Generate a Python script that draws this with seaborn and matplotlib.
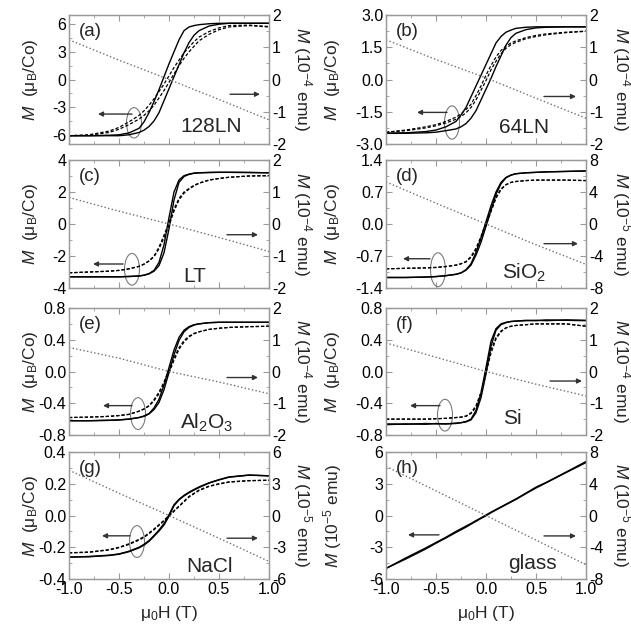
import matplotlib
matplotlib.use("Agg")
import matplotlib.pyplot as plt
import numpy as np
import pandas as pd
import seaborn as sns
from matplotlib.patches import Ellipse
from matplotlib.ticker import MultipleLocator, FixedLocator, FixedFormatter

# ---------------- data ----------------
H = [-1.0, -0.8, -0.6, -0.5, -0.4, -0.3, -0.25, -0.2, -0.15, -0.1, -0.05, 0.0,
     0.05, 0.1, 0.15, 0.2, 0.25, 0.3, 0.4, 0.5, 0.6, 0.8, 1.0]
DOT_H = [-1.0, -0.5, 0.0, 0.5, 1.0]

A_SOLID_UP = [-6.1, -6.1, -6.05, -6.0, -5.8, -5.3, -4.6, -3.6, -2.4, -1.1, 0.3, 1.7, 3.0, 4.3, 5.3, 5.7, 5.85, 5.95, 6.05, 6.1, 6.1, 6.1, 6.1]
A_SOLID_LO = [-6.1, -6.1, -6.1, -6.1, -6.0, -5.75, -5.5, -5.1, -4.5, -3.6, -2.3, -1.0, 0.3, 1.6, 2.9, 4.0, 4.8, 5.3, 5.8, 6.0, 6.1, 6.1, 6.1]
A_DASH_UP = [-6.1, -6.0, -5.6, -5.2, -4.6, -3.9, -3.4, -2.8, -2.1, -1.3, -0.5, 0.4, 1.3, 2.1, 2.9, 3.5, 4.1, 4.6, 5.2, 5.6, 5.85, 5.9, 5.75]
A_DASH_LO = [-6.1, -6.05, -5.75, -5.4, -4.9, -4.3, -3.9, -3.4, -2.8, -2.0, -1.2, -0.3, 0.6, 1.5, 2.3, 3.0, 3.6, 4.2, 4.9, 5.4, 5.7, 5.85, 5.7]
A_DOT = [1.23, 0.6, 0.0, -0.62, -1.25]

B_SOLID_UP = [-2.5, -2.48, -2.42, -2.35, -2.2, -1.95, -1.65, -1.3, -0.8, -0.3, 0.2, 0.7, 1.2, 1.7, 2.0, 2.2, 2.3, 2.38, 2.43, 2.45, 2.45, 2.45, 2.45]
B_SOLID_LO = [-2.5, -2.5, -2.48, -2.45, -2.38, -2.3, -2.2, -2.05, -1.8, -1.45, -0.95, -0.45, 0.05, 0.6, 1.1, 1.6, 1.95, 2.15, 2.32, 2.4, 2.43, 2.45, 2.45]
B_DASH_UP = [-2.45, -2.35, -2.2, -2.1, -1.95, -1.75, -1.6, -1.4, -1.15, -0.75, -0.3, 0.2, 0.65, 1.05, 1.35, 1.55, 1.7, 1.8, 1.95, 2.05, 2.12, 2.2, 2.25]
B_DASH_LO = [-2.45, -2.38, -2.25, -2.15, -2.02, -1.85, -1.72, -1.55, -1.3, -0.95, -0.5, -0.05, 0.45, 0.85, 1.2, 1.45, 1.62, 1.73, 1.9, 2.0, 2.08, 2.18, 2.24]
B_DOT = [1.23, 0.62, 0.05, -0.58, -1.2]

C_SOLID_UP = [-3.3, -3.3, -3.3, -3.3, -3.28, -3.25, -3.2, -3.1, -2.9, -2.4, -1.3, 0.4, 2.0, 2.75, 3.02, 3.12, 3.18, 3.2, 3.22, 3.23, 3.23, 3.22, 3.2]
C_SOLID_LO = [-3.3, -3.3, -3.3, -3.3, -3.28, -3.25, -3.2, -3.12, -2.95, -2.6, -1.8, -0.3, 1.5, 2.6, 2.97, 3.1, 3.17, 3.2, 3.22, 3.23, 3.23, 3.22, 3.2]
C_DASH_UP = [-3.05, -3.0, -2.95, -2.9, -2.8, -2.65, -2.5, -2.3, -2.0, -1.45, -0.7, 0.1, 0.95, 1.6, 2.0, 2.22, 2.42, 2.56, 2.75, 2.85, 2.92, 3.0, 3.02]
C_DASH_LO = [-3.05, -3.0, -2.95, -2.9, -2.8, -2.65, -2.52, -2.32, -2.05, -1.55, -0.85, -0.1, 0.8, 1.5, 1.92, 2.18, 2.38, 2.54, 2.74, 2.84, 2.92, 3.0, 3.02]
C_DOT = [0.83, 0.4, 0.0, -0.42, -0.86]

D_SOLID_UP = [-1.17, -1.17, -1.16, -1.15, -1.13, -1.1, -1.07, -1.0, -0.87, -0.62, -0.3, 0.05, 0.4, 0.7, 0.91, 1.02, 1.07, 1.1, 1.12, 1.13, 1.14, 1.15, 1.16]
D_SOLID_LO = [-1.17, -1.17, -1.16, -1.15, -1.13, -1.1, -1.07, -1.01, -0.9, -0.68, -0.4, -0.05, 0.3, 0.65, 0.88, 1.01, 1.07, 1.1, 1.12, 1.13, 1.14, 1.15, 1.16]
D_DASH_UP = [-0.98, -0.97, -0.96, -0.95, -0.93, -0.9, -0.87, -0.82, -0.71, -0.53, -0.27, 0.03, 0.33, 0.6, 0.77, 0.86, 0.91, 0.93, 0.95, 0.96, 0.96, 0.96, 0.95]
D_DASH_LO = [-0.98, -0.97, -0.96, -0.95, -0.93, -0.9, -0.87, -0.83, -0.73, -0.57, -0.33, -0.03, 0.27, 0.56, 0.75, 0.86, 0.91, 0.93, 0.95, 0.96, 0.96, 0.96, 0.95]
D_DOT = [5.26, 2.6, 0.0, -2.6, -5.05]

E_SOLID_UP = [-0.62, -0.62, -0.615, -0.61, -0.6, -0.58, -0.56, -0.53, -0.46, -0.35, -0.17, 0.05, 0.27, 0.43, 0.52, 0.565, 0.59, 0.6, 0.615, 0.62, 0.62, 0.62, 0.62]
E_SOLID_LO = [-0.62, -0.62, -0.615, -0.61, -0.6, -0.58, -0.565, -0.535, -0.48, -0.39, -0.23, -0.01, 0.21, 0.39, 0.5, 0.555, 0.585, 0.6, 0.615, 0.62, 0.62, 0.62, 0.62]
E_DASH_UP = [-0.58, -0.575, -0.565, -0.555, -0.54, -0.5, -0.47, -0.43, -0.355, -0.26, -0.13, 0.02, 0.17, 0.3, 0.39, 0.445, 0.48, 0.5, 0.53, 0.545, 0.555, 0.565, 0.57]
E_DASH_LO = [-0.58, -0.575, -0.565, -0.555, -0.54, -0.5, -0.475, -0.435, -0.37, -0.28, -0.16, -0.02, 0.14, 0.28, 0.37, 0.435, 0.475, 0.5, 0.53, 0.545, 0.555, 0.565, 0.57]
E_DOT = [0.76, 0.42, 0.0, -0.33, -0.7]

F_SOLID_UP = [-0.66, -0.665, -0.655, -0.66, -0.66, -0.65, -0.645, -0.63, -0.6, -0.49, -0.27, 0.05, 0.38, 0.54, 0.6, 0.62, 0.63, 0.635, 0.645, 0.64, 0.65, 0.645, 0.64]
F_SOLID_LO = [-0.67, -0.66, -0.665, -0.655, -0.66, -0.655, -0.645, -0.635, -0.61, -0.52, -0.33, -0.03, 0.32, 0.52, 0.59, 0.615, 0.63, 0.635, 0.64, 0.645, 0.64, 0.65, 0.645]
F_DASH_UP = [-0.6, -0.6, -0.6, -0.595, -0.59, -0.58, -0.575, -0.56, -0.52, -0.43, -0.26, 0.02, 0.27, 0.43, 0.51, 0.55, 0.57, 0.58, 0.59, 0.6, 0.6, 0.6, 0.57]
F_DASH_LO = [-0.6, -0.6, -0.6, -0.595, -0.59, -0.58, -0.575, -0.565, -0.53, -0.45, -0.3, -0.02, 0.23, 0.41, 0.5, 0.55, 0.57, 0.58, 0.59, 0.6, 0.6, 0.6, 0.57]
F_DOT = [0.9, 0.45, 0.0, -0.4, -0.77]

G_SOLID_UP = [-0.262, -0.258, -0.25, -0.242, -0.225, -0.2, -0.182, -0.158, -0.126, -0.092, -0.05, 0.005, 0.068, 0.102, 0.127, 0.147, 0.164, 0.18, 0.206, 0.226, 0.243, 0.255, 0.25]
G_SOLID_LO = [-0.262, -0.26, -0.252, -0.244, -0.228, -0.204, -0.186, -0.163, -0.131, -0.098, -0.06, -0.005, 0.062, 0.098, 0.123, 0.143, 0.16, 0.176, 0.204, 0.224, 0.241, 0.254, 0.25]
G_DASH_UP = [-0.235, -0.23, -0.215, -0.2, -0.178, -0.15, -0.133, -0.11, -0.085, -0.058, -0.03, 0.0, 0.03, 0.06, 0.09, 0.12, 0.14, 0.16, 0.185, 0.2, 0.212, 0.22, 0.222]
G_DASH_LO = [-0.235, -0.232, -0.217, -0.203, -0.182, -0.155, -0.138, -0.115, -0.09, -0.062, -0.034, -0.004, 0.026, 0.056, 0.086, 0.116, 0.137, 0.157, 0.183, 0.198, 0.21, 0.219, 0.222]
G_DOT = [4.28, 2.1, 0.0, -2.15, -4.34]

H_SOLID_UP = [-5.0, -4.0, -3.05, -2.55, -2.05, -1.5, -1.25, -1.0, -0.75, -0.48, -0.22, 0.05, 0.32, 0.57, 0.82, 1.07, 1.32, 1.57, 2.12, 2.68, 3.12, 4.1, 5.1]
H_SOLID_LO = [-5.0, -4.1, -3.15, -2.62, -2.12, -1.6, -1.35, -1.1, -0.82, -0.55, -0.28, -0.03, 0.26, 0.52, 0.77, 1.02, 1.27, 1.52, 2.07, 2.6, 3.08, 4.05, 5.0]
H_DOT = [6.2, 3.1, 0.0, -3.1, -6.2]

PANEL_LABELS = ["(a)", "(b)", "(c)", "(d)", "(e)", "(f)", "(g)", "(h)"]
SAMPLES = ["128LN", "64LN", "LT", "SiO$_2$", "Al$_2$O$_3$", "Si", "NaCl", "glass"]
LEFT_TICKS = [
    ["-6", "-3", "0", "3", "6"],
    ["-3.0", "-1.5", "0.0", "1.5", "3.0"],
    ["-4", "-2", "0", "2", "4"],
    ["-1.4", "-0.7", "0.0", "0.7", "1.4"],
    ["-0.8", "-0.4", "0.0", "0.4", "0.8"],
    ["-0.8", "-0.4", "0.0", "0.4", "0.8"],
    ["-0.4", "-0.2", "0.0", "0.2", "0.4"],
    ["-6", "-3", "0", "3", "6"],
]
RIGHT_TICKS = [
    ["-2", "-1", "0", "1", "2"], ["-2", "-1", "0", "1", "2"],
    ["-2", "-1", "0", "1", "2"], ["-8", "-4", "0", "4", "8"],
    ["-2", "-1", "0", "1", "2"], ["-2", "-1", "0", "1", "2"],
    ["-6", "-3", "0", "3", "6"], ["-8", "-4", "0", "4", "8"],
]
X_TICKS = ["-1.0", "-0.5", "0.0", "0.5", "1.0"]

panels = [
    (A_SOLID_UP, A_SOLID_LO, A_DASH_UP, A_DASH_LO, A_DOT),
    (B_SOLID_UP, B_SOLID_LO, B_DASH_UP, B_DASH_LO, B_DOT),
    (C_SOLID_UP, C_SOLID_LO, C_DASH_UP, C_DASH_LO, C_DOT),
    (D_SOLID_UP, D_SOLID_LO, D_DASH_UP, D_DASH_LO, D_DOT),
    (E_SOLID_UP, E_SOLID_LO, E_DASH_UP, E_DASH_LO, E_DOT),
    (F_SOLID_UP, F_SOLID_LO, F_DASH_UP, F_DASH_LO, F_DOT),
    (G_SOLID_UP, G_SOLID_LO, G_DASH_UP, G_DASH_LO, G_DOT),
    (H_SOLID_UP, H_SOLID_LO, None, None, H_DOT),
]

# ---------------- layout / style (not data) ----------------
geo = [
    dict(yl=7, yr=2, ell=(-0.35, -4.7, 0.15, 3.3), la=(-0.37, -0.71, -3.75), ra=(0.61, 0.91, -1.6), st=(0.42, -5.1)),
    dict(yl=3, yr=2, ell=(-0.34, -2.0, 0.15, 1.55), la=(-0.39, -0.69, -1.53), ra=(0.58, 0.90, -0.79), st=(0.38, -2.25)),
    dict(yl=4, yr=2, ell=(-0.37, -2.83, 0.15, 1.98), la=(-0.46, -0.76, -2.5), ra=(0.58, 0.89, -0.67), st=(0.26, -3.3)),
    dict(yl=1.4, yr=8, ell=(-0.48, -1.0, 0.15, 0.74), la=(-0.56, -0.83, -0.76), ra=(0.58, 0.92, -0.43), st=(0.38, -1.07)),
    dict(yl=0.8, yr=2, ell=(-0.31, -0.53, 0.15, 0.4), la=(-0.37, -0.66, -0.43), ra=(0.58, 0.89, -0.076), st=(0.38, -0.65)),
    dict(yl=0.8, yr=2, ell=(-0.41, -0.55, 0.15, 0.4), la=(-0.46, -0.76, -0.43), ra=(0.64, 0.96, -0.12), st=(0.26, -0.59)),
    dict(yl=0.4, yr=6, ell=(-0.32, -0.164, 0.15, 0.2), la=(-0.39, -0.67, -0.128), ra=(0.58, 0.89, -0.143), st=(0.40, -0.32)),
    dict(yl=6, yr=8, ell=None, la=(-0.47, -0.78, -1.83), ra=(0.58, 0.90, -1.93), st=(0.46, -4.5)),
]

sns.set_style("ticks")
plt.rcParams["font.family"] = ["Liberation Sans", "DejaVu Sans"]
plt.rcParams["mathtext.fontset"] = "custom"
plt.rcParams["mathtext.rm"] = "Liberation Sans"
plt.rcParams["mathtext.it"] = "Liberation Sans:italic"
plt.rcParams["mathtext.bf"] = "Liberation Sans:bold"
plt.rcParams["axes.unicode_minus"] = False

W, Hpx = 631, 630
fig = plt.figure(figsize=(W / 100, Hpx / 100), dpi=100)

col_x = [69, 386]
col_w = 200
rows = [(15, 144), (160, 288), (308, 435), (452, 579)]
SPINE = "#9a9a9a"


def line(ax, xs, ys, **kw):
    df = pd.DataFrame({"H": xs, "M": ys})
    sns.lineplot(data=df, x="H", y="M", ax=ax, sort=False, estimator=None, **kw)
    return ax.lines[-1]


for i, (su, sl, du, dl, dot) in enumerate(panels):
    r, c = divmod(i, 2)
    top, bot = rows[r]
    ax = fig.add_axes([col_x[c] / W, 1 - bot / Hpx, col_w / W, (bot - top) / Hpx])
    ax2 = ax.twinx()
    g = geo[i]

    line(ax2, DOT_H, dot, color="#707070", linewidth=1.0, linestyle=":")
    if du is not None:
        for ys in (du, dl):
            ln = line(ax, H, ys, color="black", linewidth=0.9)
            ln.set_linestyle((0, (2.6, 1.6)))
    for ys in (su, sl):
        line(ax, H, ys, color="black", linewidth=1.0)

    ax.set_xlim(-1, 1)
    ax.set_ylim(-g["yl"], g["yl"])
    ax2.set_ylim(-g["yr"], g["yr"])

    lt = [float(t) for t in LEFT_TICKS[i]]
    ax.yaxis.set_major_locator(FixedLocator(lt))
    ax.yaxis.set_major_formatter(FixedFormatter(LEFT_TICKS[i]))
    ax.yaxis.set_minor_locator(MultipleLocator((lt[1] - lt[0]) / 2))
    rt = [float(t) for t in RIGHT_TICKS[i]]
    ax2.yaxis.set_major_locator(FixedLocator(rt))
    ax2.yaxis.set_major_formatter(FixedFormatter(RIGHT_TICKS[i]))
    ax2.yaxis.set_minor_locator(MultipleLocator((rt[1] - rt[0]) / 2))
    ax.xaxis.set_major_locator(FixedLocator([-1, -0.5, 0, 0.5, 1]))
    ax.xaxis.set_major_formatter(FixedFormatter(X_TICKS))
    ax.xaxis.set_minor_locator(MultipleLocator(0.25))

    for a in (ax, ax2):
        for s in a.spines.values():
            s.set_color(SPINE)
            s.set_linewidth(0.9)
    ax.tick_params(which="both", direction="in", color=SPINE, labelcolor="black",
                   labelsize=11.5, top=True, right=False, pad=2)
    ax.tick_params(which="major", length=4, width=0.8)
    ax.tick_params(which="minor", length=2, width=0.6)
    ax2.tick_params(which="both", direction="in", color=SPINE, labelcolor="black",
                    labelsize=11.5, pad=2)
    ax2.tick_params(which="major", length=4, width=0.8)
    ax2.tick_params(which="minor", length=2, width=0.6)
    ax2.tick_params(axis="x", which="both", top=False, bottom=False, labelbottom=False)

    if r < 3:
        ax.tick_params(axis="x", labelbottom=False)
        ax.set_xlabel("")
    else:
        ax.set_xlabel("μ$_0$H (T)", fontsize=12.5, labelpad=5)
    ax2.set_xlabel("")

    if i == 7:
        ax.set_ylabel("$M$ (10$^{-5}$ emu)", fontsize=12.5, va="center", ha="center")
    else:
        ax.set_ylabel("$M$  (μ$_\\mathrm{B}$/Co)", fontsize=12.5, va="center", ha="center")
    unit = {3: -5, 6: -5, 7: -5}.get(i, -4)
    ax2.set_ylabel("$M$ (10$^{%d}$ emu)" % unit, fontsize=12.5, rotation=270,
                   va="center", ha="center")
    if c == 0:
        ax.yaxis.set_label_coords(-0.195, 0.5)
        ax2.yaxis.set_label_coords(1.165, 0.5)
    else:
        ax.yaxis.set_label_coords(-0.265, 0.5)
        ax2.yaxis.set_label_coords(1.175, 0.5)

    ax.text(0.05, 0.87, PANEL_LABELS[i], transform=ax.transAxes, fontsize=13.5,
            ha="left", va="center")
    ax.text(g["st"][0], g["st"][1], SAMPLES[i], fontsize=15, ha="center", va="center")
    if g["ell"] is not None:
        cx, cy, ew, eh = g["ell"]
        ax.add_patch(Ellipse((cx, cy), ew, eh, fill=False, edgecolor="#7a7a7a", linewidth=0.8))
    for key in ("la", "ra"):
        x0, x1, yy = g[key]
        ax.annotate("", xy=(x1, yy), xytext=(x0, yy),
                    arrowprops=dict(arrowstyle="-|>", color="#333333", lw=1.0, mutation_scale=7,
                                    shrinkA=0, shrinkB=0))

fig.savefig("out.png", dpi=100)
